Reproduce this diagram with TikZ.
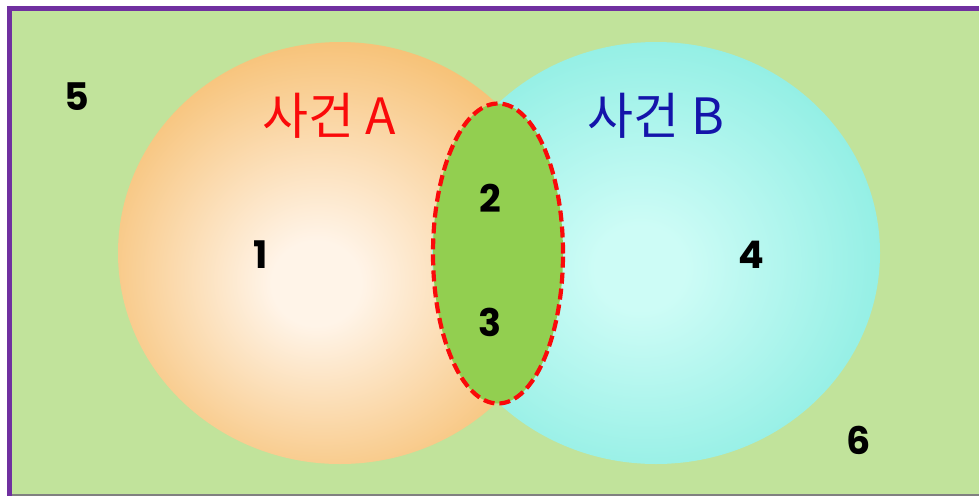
\documentclass[tikz,border=0pt]{standalone}
\usepackage{fontspec}
\usetikzlibrary{shapes.geometric}
\newfontfamily\kr{Noto Sans CJK KR}
\newfontfamily\numfont{Poppins}
\definecolor{bgGreen}{RGB}{193,227,155}
\definecolor{frame}{RGB}{112,48,160}
\definecolor{Aout}{RGB}{246,188,106}
\definecolor{Ain}{RGB}{255,244,232}
\definecolor{Bout}{RGB}{138,237,226}
\definecolor{Bin}{RGB}{205,252,246}
\definecolor{lens}{RGB}{146,207,80}
\definecolor{redT}{RGB}{250,10,10}
\definecolor{blueT}{RGB}{20,20,170}
\pgfdeclareradialshading{shadeA}{\pgfpoint{-3bp}{-4bp}}{color(0bp)=(Ain); color(5bp)=(Ain); color(30bp)=(Aout); color(50bp)=(Aout)}
\pgfdeclareradialshading{shadeB}{\pgfpoint{-2bp}{-2bp}}{color(0bp)=(Bin); color(5bp)=(Bin); color(30bp)=(Bout); color(50bp)=(Bout)}
\tikzset{
  num/.style={font=\numfont\bfseries\fontsize{38}{40}\selectfont, text=black, inner sep=0pt},
  evt/.style={font=\kr\fontsize{50}{52}\selectfont, inner sep=0pt},
  lensline/.style={draw=redT, line width=4.2pt, dash pattern=on 11pt off 5pt, fill=lens},
}
\begin{document}
\begin{tikzpicture}[x=1pt,y=-1pt]
\useasboundingbox (0,0) rectangle (979,496);
\fill[white] (0,0) rectangle (979,496);
\fill[bgGreen] (12,11) rectangle (979,494);
\fill[frame] (7,6) rectangle (979,11);
\fill[frame] (7,6) rectangle (12,496);
\fill[gray] (12,494) rectangle (979,496);
% circles
\path[shading=shadeA] (340,253) ellipse [x radius=222, y radius=211];
\path[shading=shadeB] (656,253) ellipse [x radius=224, y radius=211];
% lens
\node[lensline, ellipse, minimum width=130pt, minimum height=300pt, inner sep=0pt] (lens) at (498,253.5) {};
% labels
\node[evt, text=redT] (ta) at (329,116) {사건 A};
\node[evt, text=blueT] (tb) at (656,116) {사건 B};
\node[num] (n5) at (77,97) {5};
\node[num] (n1) at (261,255) {1};
\node[num] (n2) at (490,198) {2};
\node[num] (n3) at (490,322) {3};
\node[num] (n4) at (751,255) {4};
\node[num] (n6) at (859,440) {6};
\end{tikzpicture}
\end{document}
